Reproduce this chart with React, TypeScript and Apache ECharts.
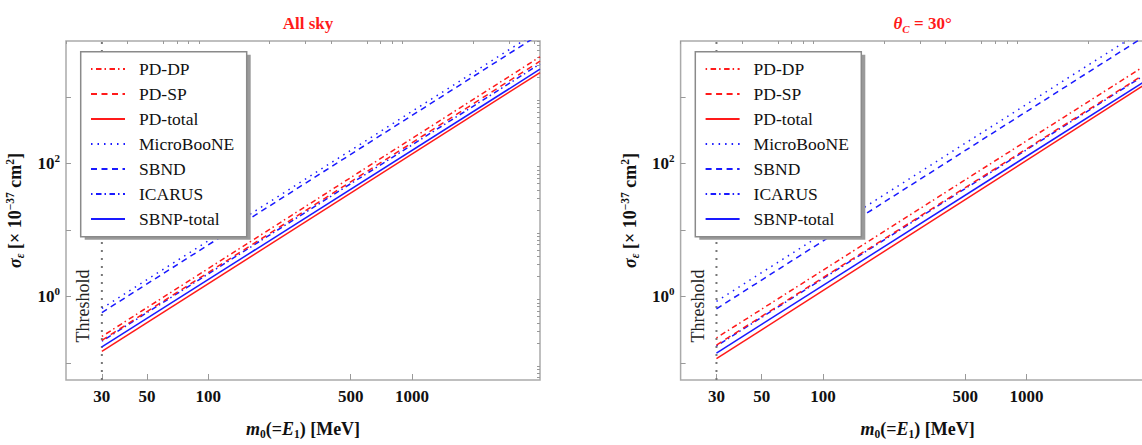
import React, { useEffect, useRef } from "react";
import * as echarts from "echarts";

// ---- data ----
const seriesNames = ["PD-DP", "PD-SP", "PD-total", "MicroBooNE", "SBND", "ICARUS", "SBNP-total"];
const thresholdMass = 30;

// All sky panel: sigma at m0 = 30 MeV and at the right end of the plot
const leftX = [30, 4250];
const leftStart = [0.249, 0.218, 0.148, 0.66, 0.57, 0.211, 0.173];
const leftEnd = [4050, 3470, 2340, 10200, 8900, 3160, 2630];

// theta_C = 30 deg panel
const rightX = [30, 3700];
const rightStart = [0.237, 0.185, 0.115, 0.84, 0.65, 0.179, 0.14];
const rightEnd = [2810, 2110, 1460, 10000, 7800, 2040, 1640];

// axes
const xMin = 20;
const xMax = 4250;
const yMin = 0.055;
const yMax = 7000;
const xLabelValues = [30, 50, 100, 500, 1000];
const xMinorTicks = [20, 40, 60, 70, 80, 90, 200, 300, 400, 600, 700, 800, 900, 2000, 3000, 4000];
const yLabelValues = [1, 100];
const yMajorTicks = [0.1, 1, 10, 100, 1000];
const yMinorTicks = [
  0.06, 0.07, 0.08, 0.09,
  0.2, 0.3, 0.4, 0.5, 0.6, 0.7, 0.8, 0.9,
  2, 3, 4, 5, 6, 7, 8, 9,
  20, 30, 40, 50, 60, 70, 80, 90,
  200, 300, 400, 500, 600, 700, 800, 900,
  2000, 3000, 4000, 5000, 6000, 7000,
];

// ---- styles ----
const RED = "#ff1a1a";
const BLUE = "#1a1aff";
const seriesColors = [RED, RED, RED, BLUE, BLUE, BLUE, BLUE];
const dashDot = [1.5, 3.5, 5.5, 3];
const dashed = [6, 4.5];
const dotted = [1.5, 5];
const seriesDash: any[] = [dashDot, dashed, "solid", dotted, dashed, dashDot, "solid"];
const SERIF = "'Liberation Serif', 'DejaVu Serif', 'Times New Roman', serif";

const PANEL_SHIFT = 614.6;
const GRID_LEFT = 66;
const GRID_TOP = 41;
const GRID_W = 474;
const GRID_H = 356;

const FS = 18;
const richMath = {
  b: { fontFamily: SERIF, fontSize: FS, fontWeight: "bold", color: "#111", lineHeight: 22 },
  i: { fontFamily: SERIF, fontSize: FS, fontWeight: "bold", fontStyle: "italic", color: "#111", lineHeight: 22 },
  sup: { fontFamily: SERIF, fontSize: 11.5, fontWeight: "bold", color: "#111", lineHeight: 11, verticalAlign: "top" },
  sub: { fontFamily: SERIF, fontSize: 11.5, fontWeight: "bold", color: "#111", lineHeight: 11, verticalAlign: "bottom" },
  subi: { fontFamily: SERIF, fontSize: 11.5, fontWeight: "bold", fontStyle: "italic", color: "#111", lineHeight: 11, verticalAlign: "bottom" },
};
const richTick = {
  b: { fontFamily: SERIF, fontSize: 17, fontWeight: "bold", color: "#111", lineHeight: 22 },
  sup: { fontFamily: SERIF, fontSize: 11, fontWeight: "bold", color: "#111", lineHeight: 11, verticalAlign: "top" },
};

function buildAxes(gridIndex: number) {
  const xMain = {
    type: "log",
    logBase: 10,
    gridIndex,
    min: xMin,
    max: xMax,
    axisLine: { show: false },
    splitLine: { show: false },
    axisTick: { show: true, inside: true, length: 6, customValues: xLabelValues, lineStyle: { color: "#999", width: 1 } },
    axisLabel: {
      show: true,
      customValues: xLabelValues,
      margin: 6,
      fontFamily: SERIF,
      fontSize: 17,
      fontWeight: "bold",
      color: "#111",
      lineHeight: 20,
      formatter: (v: number) => String(Math.round(v)),
    },
    name: "{i|m}{sub|0}{b|(=}{i|E}{sub|1}{b|) [MeV]}",
    nameLocation: "middle",
    nameGap: 38,
    nameTextStyle: { rich: richMath },
  };
  const xMinor = {
    type: "log",
    logBase: 10,
    gridIndex,
    min: xMin,
    max: xMax,
    axisLine: { show: false },
    splitLine: { show: false },
    axisLabel: { show: false },
    axisTick: { show: true, inside: true, length: 3, customValues: xMinorTicks, lineStyle: { color: "#999", width: 1 } },
  };
  const yMain = {
    type: "log",
    logBase: 10,
    gridIndex,
    min: yMin,
    max: yMax,
    axisLine: { show: false },
    splitLine: { show: false },
    axisTick: { show: true, inside: true, length: 5, customValues: yMajorTicks, lineStyle: { color: "#999", width: 1 } },
    axisLabel: {
      show: true,
      customValues: yLabelValues,
      margin: 6,
      formatter: (v: number) => "{b|10}{sup|" + Math.round(Math.log10(v)) + "}",
      rich: richTick,
    },
    name: "{i|σ}{subi|ε}{b| [× 10}{sup|−37}{b| cm}{sup|2}{b|]}",
    nameLocation: "middle",
    nameRotate: 90,
    nameGap: 40,
    nameTextStyle: { rich: richMath },
  };
  const yMinor = {
    type: "log",
    logBase: 10,
    gridIndex,
    min: yMin,
    max: yMax,
    axisLine: { show: false },
    splitLine: { show: false },
    axisLabel: { show: false },
    axisTick: { show: true, inside: true, length: 3, customValues: yMinorTicks, lineStyle: { color: "#999", width: 1 } },
  };
  return { xs: [xMain, xMinor], ys: [yMain, yMinor] };
}

function buildSeries(axisIndex: number, xs: number[], starts: number[], ends: number[]) {
  const list: any[] = seriesNames.map((name, k) => ({
    name,
    type: "line",
    xAxisIndex: axisIndex,
    yAxisIndex: axisIndex,
    showSymbol: false,
    symbol: "none",
    silent: true,
    clip: true,
    data: [
      [xs[0], starts[k]],
      [xs[1], ends[k]],
    ],
    lineStyle: { color: seriesColors[k], width: 1.5, type: seriesDash[k] },
    itemStyle: { color: seriesColors[k] },
    z: 2 + (seriesNames.length - k) * 0.01,
  }));
  list.push({
    name: "threshold",
    type: "line",
    xAxisIndex: axisIndex,
    yAxisIndex: axisIndex,
    symbol: "none",
    silent: true,
    data: [
      [thresholdMass, yMin],
      [thresholdMass, yMax],
    ],
    lineStyle: { color: "#777", width: 2, type: [2, 6] },
    z: 1,
  });
  return list;
}

function legendBox(dx: number) {
  const x = 80.7 + dx;
  const y = 51.7;
  const w = 166;
  const h = 185;
  return [
    { type: "rect", z: 3, shape: { x: x + 4, y: y + 3, width: w, height: h }, style: { fill: "#9a9a9a" } },
    { type: "rect", z: 3, shape: { x, y, width: w, height: h }, style: { fill: "#fff", stroke: "#8a8a8a", lineWidth: 1.5 } },
  ];
}

function thresholdText(dx: number) {
  return {
    type: "text",
    z: 3,
    x: 83 + dx,
    y: 306,
    rotation: Math.PI / 2,
    style: {
      text: "Threshold",
      fontFamily: SERIF,
      fontSize: 18,
      fill: "#222",
      align: "center",
      verticalAlign: "middle",
    },
  };
}

function makeLegend(dx: number) {
  return {
    data: seriesNames,
    orient: "vertical",
    left: 90 + dx,
    top: 60,
    padding: 0,
    itemGap: 7,
    itemWidth: 34,
    itemHeight: 14,
    selectedMode: false,
    backgroundColor: "transparent",
    z: 5,
    itemStyle: { opacity: 0 },
    textStyle: { fontFamily: SERIF, fontSize: 17.5, color: "#111", lineHeight: 18, padding: [0, 0, 0, 9] },
  };
}

export default function App() {
  const ref = useRef<HTMLDivElement>(null);

  useEffect(() => {
    if (!ref.current) return;
    const chart = echarts.init(ref.current, undefined, { renderer: "svg" });
    const a0 = buildAxes(0);
    const a1 = buildAxes(1);
    const option: any = {
      animation: false,
      backgroundColor: "#fff",
      title: [
        {
          text: "All sky",
          left: GRID_LEFT + GRID_W / 2,
          top: 7,
          textAlign: "center",
          textStyle: { fontFamily: SERIF, fontSize: 17, fontWeight: "bold", color: RED, lineHeight: 22 },
        },
        {
          text: "{i|θ}{s|C}{n| = 30°}",
          left: GRID_LEFT + PANEL_SHIFT + GRID_W / 2,
          top: 7,
          textAlign: "center",
          textStyle: {
            rich: {
              i: { fontFamily: SERIF, fontSize: 17, fontWeight: "bold", fontStyle: "italic", color: RED, lineHeight: 22 },
              s: { fontFamily: SERIF, fontSize: 11, fontWeight: "bold", fontStyle: "italic", color: RED, lineHeight: 11, verticalAlign: "bottom" },
              n: { fontFamily: SERIF, fontSize: 17, fontWeight: "bold", color: RED, lineHeight: 22 },
            },
          },
        },
      ],
      grid: [
        { left: GRID_LEFT, top: GRID_TOP, width: GRID_W, height: GRID_H, show: true, borderColor: "#aaa", borderWidth: 1.5, backgroundColor: "transparent", containLabel: false },
        { left: GRID_LEFT + PANEL_SHIFT, top: GRID_TOP, width: GRID_W, height: GRID_H, show: true, borderColor: "#aaa", borderWidth: 1.5, backgroundColor: "transparent", containLabel: false },
      ],
      xAxis: [...a0.xs, ...a1.xs],
      yAxis: [...a0.ys, ...a1.ys],
      legend: [makeLegend(0), makeLegend(PANEL_SHIFT)],
      graphic: {
        elements: [...legendBox(0), ...legendBox(PANEL_SHIFT), thresholdText(0), thresholdText(PANEL_SHIFT)],
      },
      series: [
        ...buildSeries(0, leftX, leftStart, leftEnd),
        ...buildSeries(2, rightX, rightStart, rightEnd),
      ],
    };
    chart.setOption(option);
    return () => chart.dispose();
  }, []);

  return (
    <div style={{ position: "fixed", left: 0, top: 0, width: 1142, height: 445, overflow: "hidden", background: "#fff" }}>
      <div ref={ref} style={{ width: 1160, height: 445 }} />
    </div>
  );
}
